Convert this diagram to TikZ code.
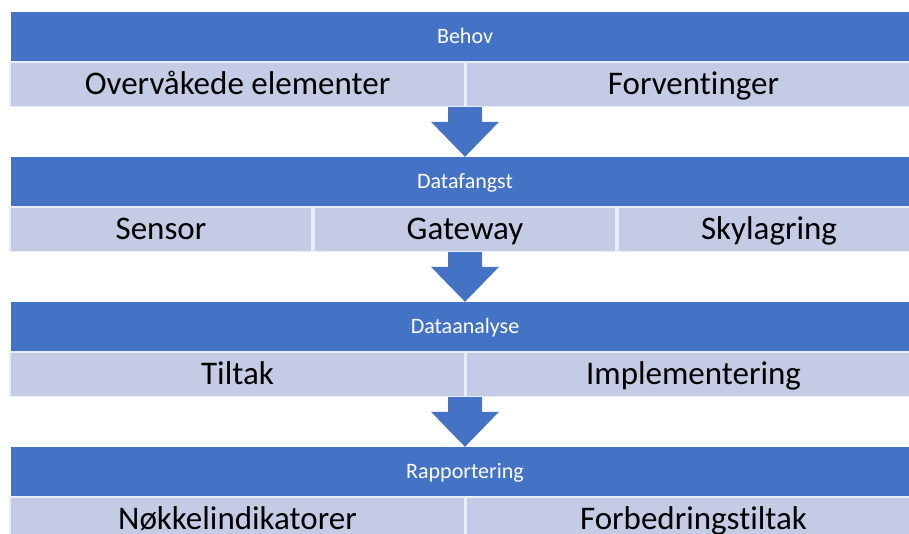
\documentclass[tikz,border=0pt]{standalone}
\usepackage{fontspec}
\setmainfont{Carlito}[Ligatures=NoCommon]
\usetikzlibrary{calc}

\definecolor{headblue}{HTML}{4472C4}
\definecolor{cellblue}{HTML}{C3CBE5}

% block arrow from the bottom of one stage to the top of the next
\newcommand\stagearrow[2]{%
  \fill[headblue] ([xshift=-17pt]#1) -- ([xshift=17pt]#1)
    -- ([xshift=17pt,yshift=35pt]#2) -- ([xshift=34pt,yshift=35pt]#2)
    -- (#2) -- ([xshift=-34pt,yshift=35pt]#2)
    -- ([xshift=-17pt,yshift=35pt]#2) -- cycle;}

\begin{document}
\begin{tikzpicture}[x=1pt, y=-1pt,
    head/.style={rectangle, fill=headblue, text=white, inner sep=0pt,
      minimum width=908pt, minimum height=49pt,
      text height=14pt, text depth=0pt, font=\fontsize{22}{24}\selectfont},
    cell/.style={rectangle, fill=cellblue, draw=cellblue!35!white, line width=1.5pt,
      inner sep=0pt, minimum height=44.5pt,
      text height=22pt, text depth=1.5pt, font=\fontsize{33}{36}\selectfont},
    halfcell/.style={cell, minimum width=455pt},
    thirdcell/.style={cell, minimum width=302pt}]
    \useasboundingbox (0,0) rectangle (909,533);
    \clip (0,0) rectangle (909,533);
    % stage 1
    \node[head] (behov) at (465,36.5) {Behov};
    \node[halfcell] (overvaak) at (237.5,84) {Overvåkede elementer};
    \node[halfcell] (forvent) at (693.5,84) {Forventinger};
    % stage 2
    \node[head] (fangst) at (465,181.5) {Datafangst};
    \node[thirdcell] (sensor) at (161,229) {Sensor};
    \node[thirdcell] (gateway) at (465,229) {Gateway};
    \node[thirdcell] (sky) at (769,229) {Skylagring};
    % stage 3
    \node[head] (analyse) at (465,326.5) {Dataanalyse};
    \node[halfcell] (tiltak) at (237.5,374) {Tiltak};
    \node[halfcell] (impl) at (693.5,374) {Implementering};
    % stage 4
    \node[head] (rapport) at (465,471.5) {Rapportering};
    \node[halfcell] (noekkel) at (237.5,519) {Nøkkelindikatorer};
    \node[halfcell] (forbedr) at (693.5,519) {Forbedringstiltak};
    % arrows between the stages
    \coordinate (a1) at (behov.south |- forvent.south);
    \coordinate (a2) at (gateway.south);
    \coordinate (a3) at (analyse.south |- impl.south);
    \stagearrow{a1}{fangst.north}
    \stagearrow{a2}{analyse.north}
    \stagearrow{a3}{rapport.north}
\end{tikzpicture}
\end{document}
